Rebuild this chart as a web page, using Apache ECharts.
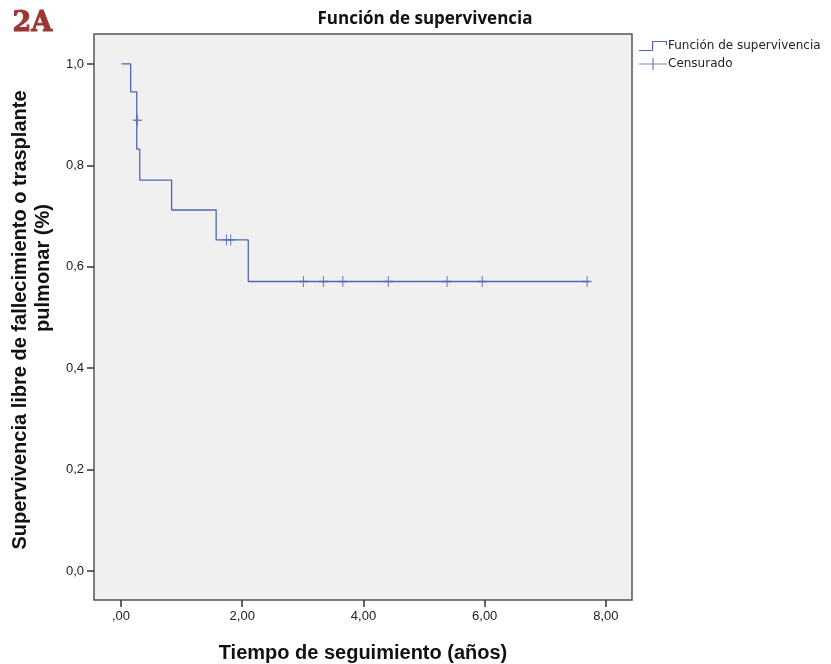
<!DOCTYPE html>
<html>
<head>
<meta charset="utf-8">
<title>Función de supervivencia</title>
<script src="https://cdn.jsdelivr.net/npm/echarts@6/dist/echarts.min.js"></script>
<style>
  html, body { margin: 0; padding: 0; background: #fff; }
  #chart { width: 831px; height: 664px; }
</style>
</head>
<body>
<div id="chart"></div>
<script>
// curva de Kaplan-Meier (tiempo, supervivencia despues del evento)
var stepTimes = [0.01, 0.16, 0.26, 0.31, 0.835, 1.57, 2.10, 7.72]
var stepSurv = [1.0, 0.945, 0.832, 0.771, 0.712, 0.653, 0.571, 0.571]

// casos censurados
var censorTimes = [0.27, 1.74, 1.81, 3.01, 3.34, 3.66, 4.41, 5.38, 5.96, 7.69]
var censorSurv = [0.889, 0.653, 0.653, 0.571, 0.571, 0.571, 0.571, 0.571, 0.571, 0.571]

var xTicks = [0, 2, 4, 6, 8]
var yTicks = [0, 0.2, 0.4, 0.6, 0.8, 1.0]

var lineColor = '#5066b6'

var stepData = stepTimes.map(function (t, i) { return [t, stepSurv[i]] })
var censorData = censorTimes.map(function (t, i) { return [t, censorSurv[i]] })

// iconos de la leyenda
var stepIcon = 'path://M0,9H13V0H28V4H26.8V1.2H14.2V10.2H0Z'
var plusIcon = 'path://M0,5.4H13.4V0H14.6V5.4H28V6.6H14.6V12H13.4V6.6H0Z'
var censorSymbol = 'path://M4.4,0H5.6V4.4H10V5.6H5.6V10H4.4V5.6H0V4.4H4.4Z'

function comma (v, d) {
  var s = v.toFixed(d).replace('.', ',')
  if (s.indexOf('0,') === 0 && d === 2) s = s.substring(1) // SPSS escribe ,00
  return s
}

var chart = echarts.init(document.getElementById('chart'), null, { renderer: 'canvas' })
chart.setOption({
  animation: false,
  backgroundColor: '#fff',
  textStyle: { fontFamily: 'Liberation Sans' },
  title: {
    text: 'Función de supervivencia',
    left: 420,
    textAlign: 'center',
    top: 6,
    textStyle: { fontFamily: 'Open Sans', fontWeight: 'bold', fontSize: 17, color: '#111' }
  },
  legend: {
    orient: 'vertical',
    left: 634,
    top: 35,
    itemWidth: 28,
    itemHeight: 12,
    itemGap: 6,
    textStyle: { fontFamily: 'DejaVu Sans', fontSize: 12, color: '#222', padding: [0, 0, 0, -4] },
    data: [
      { name: 'Función de supervivencia', icon: stepIcon },
      { name: 'Censurado', icon: plusIcon }
    ]
  },
  grid: {
    left: 94,
    top: 34,
    right: 199,
    bottom: 64,
    outerBoundsMode: 'none',
    containLabel: false,
    show: true,
    backgroundColor: '#f0f0f0',
    borderColor: '#555',
    borderWidth: 1.5
  },
  xAxis: {
    type: 'value',
    min: -0.445,
    max: 8.43,
    name: 'Tiempo de seguimiento (años)',
    nameLocation: 'middle',
    nameGap: 43,
    nameTextStyle: { fontWeight: 'bold', fontSize: 20, color: '#111' },
    axisLine: { show: false, onZero: false },
    splitLine: { show: false },
    axisTick: { show: true, customValues: xTicks, length: 7, lineStyle: { color: '#333', width: 1.5 } },
    axisLabel: {
      customValues: xTicks,
      margin: 10,
      fontSize: 13,
      color: '#222',
      formatter: function (v) { return comma(v, 2) }
    }
  },
  yAxis: {
    type: 'value',
    min: -0.057,
    max: 1.059,
    axisLine: { show: false, onZero: false },
    splitLine: { show: false },
    axisTick: { show: true, customValues: yTicks, length: 7, lineStyle: { color: '#333', width: 1.5 } },
    axisLabel: {
      customValues: yTicks,
      margin: 10,
      fontSize: 13,
      color: '#222',
      formatter: function (v) { return comma(v, 1) }
    }
  },
  graphic: [
    {
      type: 'text',
      left: 12,
      top: 10,
      style: {
        text: '2A', fontFamily: 'DejaVu Serif', fontWeight: 'bold', fontSize: 27,
        fill: '#9a3733', stroke: '#9a3733', lineWidth: 1
      }
    },
    {
      type: 'text',
      x: 20,
      y: 320,
      rotation: Math.PI / 2,
      style: {
        text: 'Supervivencia libre de fallecimiento o trasplante',
        fontFamily: 'Liberation Sans', fontWeight: 'bold', fontSize: 20, fill: '#111',
        align: 'center', verticalAlign: 'middle'
      }
    },
    {
      type: 'text',
      x: 43,
      y: 268,
      rotation: Math.PI / 2,
      style: {
        text: 'pulmonar (%)',
        fontFamily: 'Liberation Sans', fontWeight: 'bold', fontSize: 20, fill: '#111',
        align: 'center', verticalAlign: 'middle'
      }
    }
  ],
  series: [
    {
      name: 'Función de supervivencia',
      type: 'line',
      step: 'end',
      data: stepData,
      showSymbol: false,
      symbol: 'none',
      color: lineColor,
      lineStyle: { color: lineColor, width: 1.3 }
    },
    {
      name: 'Censurado',
      type: 'scatter',
      data: censorData,
      symbol: censorSymbol,
      symbolSize: [9, 11],
      color: lineColor,
      itemStyle: { color: lineColor }
    }
  ]
})
</script>
</body>
</html>
